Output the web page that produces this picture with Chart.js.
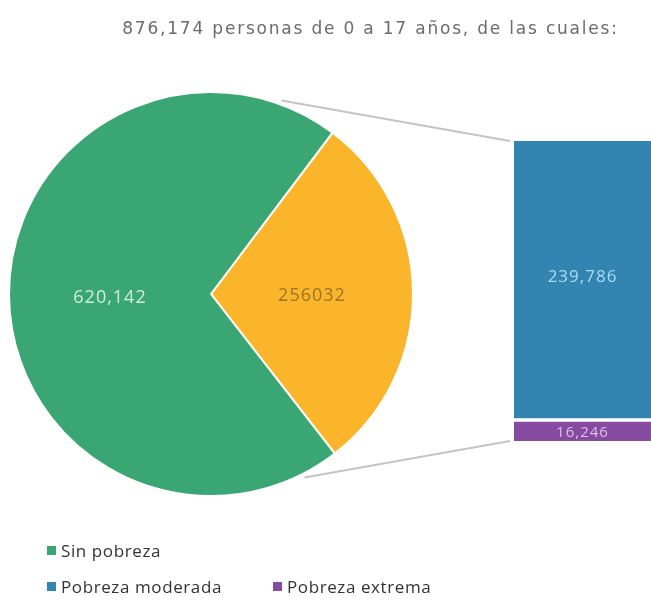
<!DOCTYPE html>
<html>
<head>
<meta charset="utf-8">
<script src="https://cdn.jsdelivr.net/npm/chart.js@4"></script>
<style>
  body { margin: 0; background: #fff; font-family: "Open Sans", sans-serif; }
  #wrap { position: relative; width: 651px; height: 605px; overflow: hidden; }
  #pieChart { position: absolute; left: 0; top: 0; }
  #barChart { position: absolute; left: 514px; top: 141px; }
  #title { position: absolute; left: 90px; width: 561px; top: 18px; text-align: center;
           font-family: "DejaVu Sans", sans-serif; font-size: 17px; color: #6b6b6b; letter-spacing: 1.8px; }
  .leg { position: absolute; display: flex; align-items: center; gap: 5px;
         font-size: 17px; font-weight: 500; letter-spacing: 0.6px; color: #333; }
  .leg span { width: 9px; height: 9px; display: inline-block; }
</style>
</head>
<body>
<div id="wrap">
  <canvas id="pieChart" width="651" height="605"></canvas>
  <canvas id="barChart" width="137" height="300"></canvas>
  <div id="title">876,174 personas de 0 a 17 años, de las cuales:</div>
  <div id="legend"></div>
</div>
<script>
const pieLabels = ['Pobreza', 'Sin pobreza'];
const pieValues = [256032, 620142];
const pieText = ['256032', '620,142'];
const pieColors = ['#fbb52b', '#3aa673'];

const barLabels = ['Pobreza extrema', 'Pobreza moderada'];
const barValues = [16246, 239786];
const barColors = ['#874aa1', '#3284b1'];
const barTextColors = ['#dcc0ea', '#a9dcf5'];

const legendItems = [
    { label: 'Sin pobreza', color: '#3aa673', left: 47, top: 539 },
    { label: 'Pobreza moderada', color: '#3284b1', left: 47, top: 575 },
    { label: 'Pobreza extrema', color: '#874aa1', left: 273, top: 575 }
];

// bar on the right
const barCtx = document.getElementById('barChart').getContext('2d');
const barChart = new Chart(barCtx, {
    type: 'bar',
    data: {
        labels: [''],
        datasets: barLabels.map((label, i) => ({
            label: label,
            data: [barValues[i]],
            backgroundColor: barColors[i],
            borderColor: '#ffffff',
            borderWidth: i === 1 ? { top: 0, left: 0, right: 0, bottom: 4 } : 0,
            borderSkipped: false,
            barPercentage: 1,
            categoryPercentage: 1
        }))
    },
    options: {
        responsive: false,
        animation: false,
        layout: { padding: 0 },
        plugins: { legend: { display: false }, tooltip: { enabled: false } },
        scales: {
            x: { stacked: true, display: false },
            y: { stacked: true, display: false, min: 0, max: pieValues[0] }
        }
    },
    plugins: [{
        id: 'barText',
        afterDatasetsDraw(chart) {
            const ctx = chart.ctx;
            ctx.save();
            ctx.letterSpacing = '1px';
            ctx.textAlign = 'center';
            ctx.textBaseline = 'middle';
            chart.data.datasets.forEach((ds, i) => {
                const el = chart.getDatasetMeta(i).data[0];
                const bw = i === 1 ? 4 : 0;
                ctx.font = i === 1 ? '17px "Open Sans"' : '15px "Open Sans"';
                ctx.fillStyle = barTextColors[i];
                ctx.fillText(ds.data[0].toLocaleString('en-US'), el.x, (el.y + el.base - bw) / 2 + (i === 1 ? -2 : 1));
            });
            ctx.restore();
        }
    }]
});

// pie + connector lines
const pieCtx = document.getElementById('pieChart').getContext('2d');
new Chart(pieCtx, {
    type: 'pie',
    data: {
        labels: pieLabels,
        datasets: [{
            data: pieValues,
            backgroundColor: pieColors,
            borderColor: '#ffffff',
            borderWidth: 2
        }]
    },
    options: {
        responsive: false,
        animation: false,
        rotation: 37,
        layout: { padding: { left: 8, top: 91, right: 237, bottom: 108 } },
        plugins: { legend: { display: false }, tooltip: { enabled: false } }
    },
    plugins: [{
        id: 'pieText',
        afterDatasetsDraw(chart) {
            const ctx = chart.ctx;
            const arcs = chart.getDatasetMeta(0).data;
            ctx.save();
            ctx.font = '18px "Open Sans"';
            ctx.letterSpacing = '1px';
            ctx.textAlign = 'center';
            ctx.textBaseline = 'middle';
            arcs.forEach((arc, i) => {
                const p = arc.getCenterPoint();
                ctx.fillStyle = i === 0 ? '#9c7424' : '#cfeedd';
                ctx.fillText(pieText[i], p.x, p.y + 3);
            });
            ctx.letterSpacing = '0px';

            // lines to the bar
            const a = arcs[0];
            const r = a.outerRadius + 4;
            const bars = barChart.getDatasetMeta(1).data[0];
            const barsLow = barChart.getDatasetMeta(0).data[0];
            const bx = 514 - 4;
            const topY = 141 + bars.y;
            const botY = 141 + barsLow.base;
            const t1 = (20 - 90) * Math.PI / 180;
            const t2 = (153 - 90) * Math.PI / 180;
            ctx.strokeStyle = '#c4c4c4';
            ctx.lineWidth = 2;
            ctx.beginPath();
            ctx.moveTo(a.x + r * Math.cos(t1), a.y + r * Math.sin(t1));
            ctx.lineTo(bx, topY);
            ctx.moveTo(a.x + r * Math.cos(t2), a.y + r * Math.sin(t2));
            ctx.lineTo(bx, botY);
            ctx.stroke();
            ctx.restore();
        }
    }]
});

// Custom legend
const legendContainer = document.getElementById('legend');
legendItems.forEach(item => {
    const div = document.createElement('div');
    div.className = 'leg';
    div.style.left = item.left + 'px';
    div.style.top = item.top + 'px';
    const box = document.createElement('span');
    box.style.backgroundColor = item.color;
    div.appendChild(box);
    div.appendChild(document.createTextNode(item.label));
    legendContainer.appendChild(div);
});
</script>
</body>
</html>
